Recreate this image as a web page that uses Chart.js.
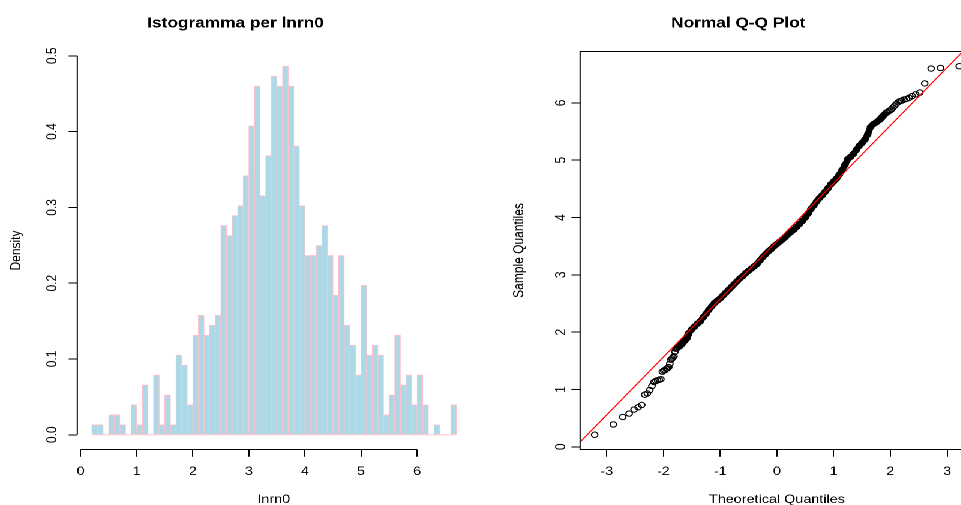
<!DOCTYPE html>
<html>
<head>
<meta charset="utf-8">
<script src="https://cdn.jsdelivr.net/npm/chart.js@4/dist/chart.umd.min.js"></script>
<style>
html, body { margin:0; padding:0; width:961px; height:505px; overflow:hidden; background:#fff; }
/* the picture is an R device stretched sideways, so the charts are drawn narrow and scaled */
#stage { position:absolute; left:0; top:0; width:900px; height:520px; transform:scaleX(1.2); transform-origin:0 0; }
#stage canvas { position:absolute; top:0; }
#histCanvas { left:0; }
#qqCanvas { left:418.9px; }
</style>
</head>
<body>
<div id="stage">
  <canvas id="histCanvas" width="457" height="520"></canvas>
  <canvas id="qqCanvas" width="457" height="520"></canvas>
</div>
<script>
// ---- histogram (lnrn0), bin width 0.1 ----
var histBinLeft = [0.2,0.3,0.4,0.5,0.6,0.7,0.8,0.9,
  1.0,1.1,1.2,1.3,1.4,1.5,1.6,1.7,1.8,1.9,
  2.0,2.1,2.2,2.3,2.4,2.5,2.6,2.7,2.8,2.9,
  3.0,3.1,3.2,3.3,3.4,3.5,3.6,3.7,3.8,3.9,
  4.0,4.1,4.2,4.3,4.4,4.5,4.6,4.7,4.8,4.9,
  5.0,5.1,5.2,5.3,5.4,5.5,5.6,5.7,5.8,5.9,
  6.0,6.1,6.2,6.3,6.4,6.5,6.6];
var histCounts = [1,1,0,2,2,1,0,3,
  1,5,0,6,1,4,1,8,7,3,
  10,12,10,11,12,21,20,22,23,26,
  31,35,24,28,36,35,37,35,29,23,
  18,18,19,21,18,14,18,11,9,6,
  15,8,9,8,2,4,10,5,6,3,
  6,3,0,1,0,0,3];
var histBinWidth = 0.1;
var histXTicks = [0,1,2,3,4,5,6];
var histYTicks = [0,0.1,0.2,0.3,0.4,0.5];

// ---- normal Q-Q plot: theoretical vs sample quantiles ----
var qqTheory = [-3.213,-2.884,-2.718,-2.605,-2.518,-2.446,-2.384,-2.331,-2.284,-2.241,
  -2.203,-2.167,-2.134,-2.103,-2.074,-2.046,-2.020,-1.995,-1.972,-1.950,
  -1.928,-1.908,-1.888,-1.868,-1.849,-1.832,-1.814,-1.797,-1.781,-1.765,
  -1.750,-1.735,-1.720,-1.706,-1.692,-1.678,-1.665,-1.652,-1.639,-1.627,
  -1.614,-1.603,-1.591,-1.580,-1.568,-1.557,
  -1.50,-1.45,-1.40,-1.35,-1.30,-1.25,-1.20,-1.15,-1.10,-1.05,
  -1.00,-0.95,-0.90,-0.85,-0.80,-0.75,-0.70,-0.65,-0.60,-0.55,
  -0.50,-0.45,-0.40,-0.35,-0.30,-0.25,-0.20,-0.15,-0.10,-0.05,
  0.00,0.05,0.10,0.15,0.20,0.25,0.30,0.35,0.40,0.45,
  0.50,0.55,0.60,0.65,0.70,0.75,0.80,0.85,0.90,0.95,
  1.00,1.05,1.10,1.15,1.20,1.25,1.30,1.35,1.40,1.45,
  1.50,1.55,1.60,1.65,1.70,1.75,1.80,
  1.815,1.832,1.849,1.868,1.888,1.908,1.928,1.950,1.972,1.995,
  2.020,2.046,2.074,2.103,2.134,2.167,2.203,2.241,2.284,2.331,
  2.384,2.446,2.518,2.605,2.718,2.884,3.213];
var qqSample = [0.21,0.39,0.52,0.58,0.65,0.69,0.73,0.91,0.93,0.99,
  1.06,1.13,1.15,1.16,1.17,1.18,1.31,1.33,1.34,1.36,
  1.37,1.39,1.45,1.52,1.54,1.56,1.58,1.66,1.71,1.72,
  1.74,1.75,1.75,1.76,1.78,1.79,1.81,1.83,1.84,1.85,
  1.87,1.88,1.89,1.92,1.95,1.98,
  2.05,2.10,2.15,2.19,2.26,2.32,2.39,2.45,2.51,2.55,
  2.59,2.64,2.69,2.74,2.79,2.84,2.89,2.94,2.98,3.03,
  3.07,3.11,3.15,3.19,3.25,3.31,3.36,3.41,3.45,3.50,
  3.54,3.58,3.62,3.66,3.71,3.75,3.79,3.84,3.89,3.94,
  4.00,4.07,4.15,4.21,4.28,4.34,4.39,4.45,4.51,4.58,
  4.63,4.68,4.75,4.83,4.92,5.02,5.06,5.11,5.18,5.25,
  5.30,5.36,5.45,5.58,5.63,5.66,5.70,
  5.71,5.73,5.75,5.77,5.79,5.81,5.83,5.84,5.86,5.87,
  5.89,5.92,5.95,5.98,6.01,6.03,6.04,6.06,6.07,6.09,
  6.12,6.15,6.18,6.34,6.60,6.61,6.64];
var qqLineIntercept = 3.587;
var qqLineSlope = 1.01;
var qqXTicks = [-3,-2,-1,0,1,2,3];
var qqYTicks = [0,1,2,3,4,5,6];

Chart.defaults.font.family = "'Liberation Sans', Arial, Helvetica, sans-serif";
Chart.defaults.font.size = 12;
Chart.defaults.color = '#000';

// R pads the data range by 4% on each side
function rRange(lo, hi) {
  var d = (hi - lo) * 0.04;
  return [lo - d, hi + d];
}

// R style axis lines (only from first to last tick) or a full box
var rAxes = {
  id: 'rAxes',
  afterDraw: function (chart, args, opts) {
    var ctx = chart.ctx, a = chart.chartArea, sx = chart.scales.x, sy = chart.scales.y;
    ctx.save();
    ctx.strokeStyle = '#000';
    ctx.lineWidth = 1;
    ctx.beginPath();
    if (opts.box) {
      ctx.rect(a.left, a.top, a.right - a.left, a.bottom - a.top);
    } else {
      ctx.moveTo(sx.getPixelForValue(sx.ticks[0].value), a.bottom);
      ctx.lineTo(sx.getPixelForValue(sx.ticks[sx.ticks.length - 1].value), a.bottom);
      ctx.moveTo(a.left, sy.getPixelForValue(sy.ticks[0].value));
      ctx.lineTo(a.left, sy.getPixelForValue(sy.ticks[sy.ticks.length - 1].value));
    }
    ctx.stroke();
    ctx.restore();
  }
};

function axisX(range, ticks, label, fmt) {
  return {
    type: 'linear', min: range[0], max: range[1], offset: false,
    afterBuildTicks: function (s) { s.ticks = ticks.map(function (v) { return { value: v }; }); },
    afterFit: function (s) { s.height = 70.5; },
    ticks: { autoSkip: false, padding: 7.7, maxRotation: 0, callback: fmt },
    grid: { drawOnChartArea: false, tickLength: 7.2, color: '#000', offset: false },
    border: { display: false },
    title: { display: true, text: label, padding: { top: 0, bottom: 13.3 } }
  };
}

function axisY(range, ticks, label, fmt) {
  return {
    type: 'linear', min: range[0], max: range[1],
    afterBuildTicks: function (s) { s.ticks = ticks.map(function (v) { return { value: v }; }); },
    afterFit: function (s) { s.width = 64.4; },
    ticks: { autoSkip: false, minRotation: 90, maxRotation: 90, crossAlign: 'center', padding: 5.4, callback: fmt },
    grid: { drawOnChartArea: false, tickLength: 7.2, color: '#000' },
    border: { display: false },
    title: { display: true, text: label, padding: { top: 6.7, bottom: 0 } }
  };
}

function titleOpts(text) {
  return { display: true, text: text, font: { size: 14.4, weight: 'bold' }, color: '#000', padding: { top: 15.1, bottom: 19.1 } };
}

// histogram
var nObs = histCounts.reduce(function (a, b) { return a + b; }, 0);
var histDensity = histCounts.map(function (c) { return c / (nObs * histBinWidth); });
var histBars = histBinLeft.map(function (x, i) { return { x: x + histBinWidth / 2, y: histDensity[i] }; });
var histXRange = rRange(histBinLeft[0], histBinLeft[histBinLeft.length - 1] + histBinWidth);
var histYRange = rRange(0, Math.max.apply(null, histDensity));

new Chart(document.getElementById('histCanvas'), {
  type: 'bar',
  data: {
    datasets: [{
      type: 'bar',
      data: histBars,
      backgroundColor: '#add8e6',
      borderColor: '#ffc0cb',
      borderWidth: { top: 1, left: 0.7, right: 0.7, bottom: 0 },
      barPercentage: 1,
      categoryPercentage: 1,
      order: 1
    }, {
      // bottom edges of the rectangles
      type: 'line',
      data: [{ x: histBinLeft[0], y: 0 }, { x: histBinLeft[histBinLeft.length - 1] + histBinWidth, y: 0 }],
      borderColor: '#ffc0cb',
      borderWidth: 1,
      pointRadius: 0,
      order: 0
    }]
  },
  options: {
    responsive: false,
    devicePixelRatio: 2,
    animation: false,
    events: [],
    layout: { padding: { left: 0, right: 64.5, top: 0, bottom: 0 } },
    scales: {
      x: axisX(histXRange, histXTicks, 'lnrn0', function (v) { return String(v); }),
      y: axisY(histYRange, histYTicks, 'Density', function (v) { return v.toFixed(1); })
    },
    plugins: {
      legend: { display: false },
      tooltip: { enabled: false },
      title: titleOpts('Istogramma per lnrn0'),
      rAxes: { box: false }
    }
  },
  plugins: [rAxes]
});

// Q-Q plot
var qqPoints = qqTheory.map(function (t, i) { return { x: t, y: qqSample[i] }; });
// the dense middle of the cloud, where the circles merge into one black band
var qqBand = qqPoints.filter(function (p) { return p.x >= -1.6 && p.x <= 1.9; });
var qqXRange = rRange(Math.min.apply(null, qqTheory), Math.max.apply(null, qqTheory));
var qqYRange = rRange(Math.min.apply(null, qqSample), Math.max.apply(null, qqSample));
var qqLine = [qqXRange[0], qqXRange[1]].map(function (t) { return { x: t, y: qqLineIntercept + qqLineSlope * t }; });

new Chart(document.getElementById('qqCanvas'), {
  type: 'scatter',
  data: {
    datasets: [{
      type: 'line',
      data: qqBand,
      borderColor: '#000',
      borderWidth: 5.5,
      pointRadius: 0,
      borderJoinStyle: 'round',
      borderCapStyle: 'round',
      order: 2
    }, {
      type: 'scatter',
      data: qqPoints,
      pointStyle: 'circle',
      pointRadius: 2.7,
      pointBorderWidth: 1,
      pointBorderColor: '#000',
      pointBackgroundColor: 'rgba(0,0,0,0)',
      order: 1
    }, {
      type: 'line',
      data: qqLine,
      borderColor: '#ff0000',
      borderWidth: 1,
      pointRadius: 0,
      order: 0
    }]
  },
  options: {
    responsive: false,
    devicePixelRatio: 2,
    animation: false,
    events: [],
    layout: { padding: { left: 0, right: 64.5, top: 0, bottom: 0 } },
    scales: {
      x: axisX(qqXRange, qqXTicks, 'Theoretical Quantiles', function (v) { return String(v); }),
      y: axisY(qqYRange, qqYTicks, 'Sample Quantiles', function (v) { return String(v); })
    },
    plugins: {
      legend: { display: false },
      tooltip: { enabled: false },
      title: titleOpts('Normal Q-Q Plot'),
      rAxes: { box: true }
    }
  },
  plugins: [rAxes]
});
</script>
</body>
</html>
